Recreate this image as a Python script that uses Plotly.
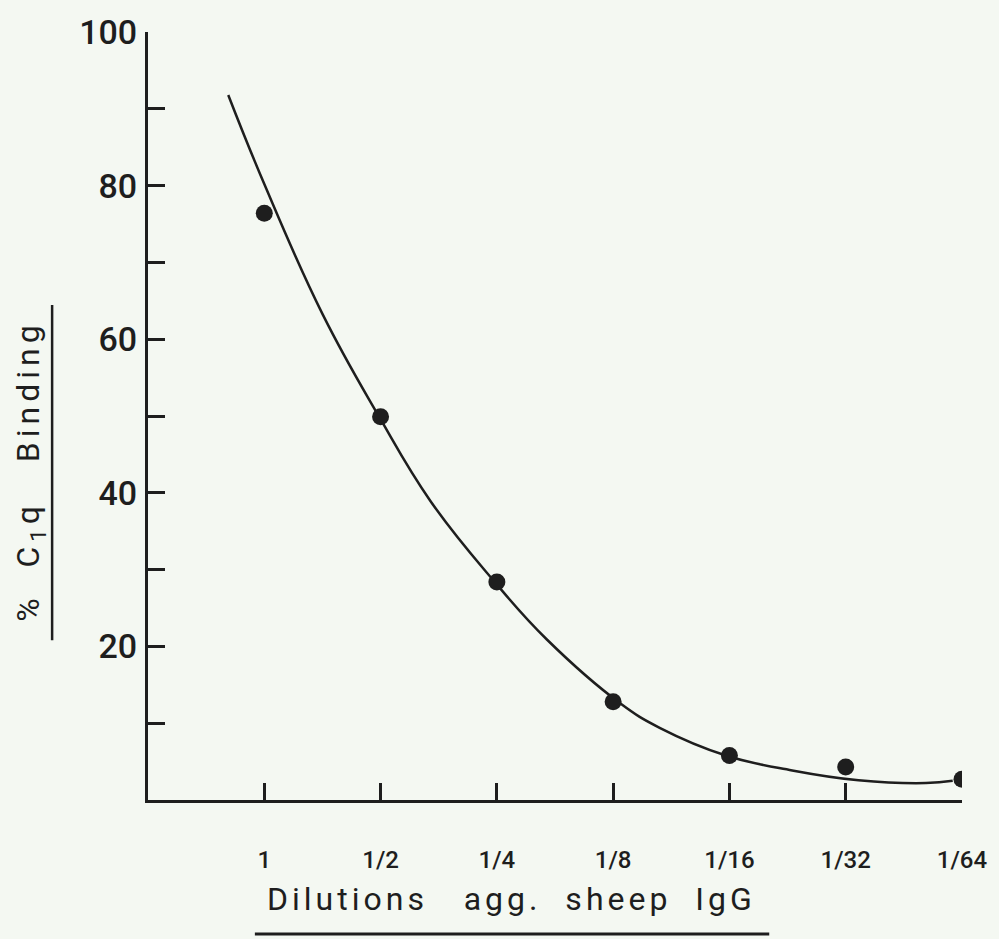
import plotly.graph_objects as go

# Dilution series (plotted at equal spacing, index 0..6)
dilution_labels = ["1", "1/2", "1/4", "1/8", "1/16", "1/32", "1/64"]
dilution_index = [0, 1, 2, 3, 4, 5, 6]
binding_pct = [76.4, 49.9, 28.4, 12.8, 5.8, 4.3, 2.7]

# Hand-drawn fitted curve, read point by point
curve_x = [-0.31, 0.0, 0.50, 0.98, 1.43, 1.97, 2.43, 3.06, 3.40, 3.97, 4.54, 5.11, 5.69, 5.92]
curve_y = [91.8, 80.2, 63.3, 50.1, 38.9, 28.6, 20.9, 12.6, 9.4, 5.8, 3.85, 2.57, 2.2, 2.5]

y_tick_vals = [10, 20, 30, 40, 50, 60, 70, 80, 90, 100]
y_tick_text = ["", "20", "", "40", "", "60", "", "80", "", "100"]

W, H = 999, 939
ML, MR, MT, MB = 148, 36, 21, 139
PW, PH = W - ML - MR, H - MT - MB
INK = "#1e1e1e"
PAPER = "#f4f8f2"
FONT = "Roboto"


def px_x(x):
    return (x - ML) / PW


def px_y(y):
    return (H - MB - y) / PH


fig = go.Figure()
fig.add_trace(go.Scatter(
    x=curve_x, y=curve_y, mode="lines",
    line=dict(color=INK, width=2.5, shape="spline", smoothing=1.2),
    hoverinfo="skip", showlegend=False,
))
fig.add_trace(go.Scatter(
    x=dilution_index, y=binding_pct, mode="markers",
    marker=dict(color=INK, size=17, line=dict(width=0)),
    showlegend=False,
))

fig.update_layout(
    width=W, height=H,
    margin=dict(l=ML, r=MR, t=MT, b=MB, pad=0),
    paper_bgcolor=PAPER, plot_bgcolor=PAPER,
    font=dict(family=FONT, color=INK),
    showlegend=False,
)
fig.update_xaxes(
    range=[-1, 6], showgrid=False, zeroline=False,
    showline=True, linecolor=INK, linewidth=3,
    tickmode="array", tickvals=dilution_index, ticktext=dilution_labels,
    ticks="inside", ticklen=17, tickwidth=3, tickcolor=INK,
    tickfont=dict(size=24, family=FONT, color=INK, weight=500),
    ticklabelstandoff=36,
)
fig.update_yaxes(
    range=[0, 100], showgrid=False, zeroline=False,
    showline=True, linecolor=INK, linewidth=3,
    tickmode="array", tickvals=y_tick_vals, ticktext=y_tick_text,
    ticks="inside", ticklen=17, tickwidth=3, tickcolor=INK,
    tickfont=dict(size=34, family=FONT, color=INK, weight=500),
    ticklabelstandoff=1,
)

# Axis titles (letter-spaced) with underlines
fig.add_annotation(
    text='<span style="letter-spacing:5px">%  C<sub>1</sub>q   Binding</span>',
    xref="paper", yref="paper",
    x=px_x(30), y=px_y(466), textangle=-90, showarrow=False,
    xanchor="center", yanchor="middle",
    font=dict(size=32, family=FONT, color=INK),
)
fig.add_shape(type="line", xref="paper", yref="paper",
              x0=px_x(52), x1=px_x(52), y0=px_y(298), y1=px_y(638),
              line=dict(color=INK, width=2.5))
fig.add_annotation(
    text='<span style="letter-spacing:4px">Dilutions   agg.  sheep  IgG</span>',
    xref="paper", yref="paper",
    x=px_x(512), y=px_y(900), showarrow=False,
    xanchor="center", yanchor="middle",
    font=dict(size=32, family=FONT, color=INK),
)
fig.add_shape(type="line", xref="paper", yref="paper",
              x0=px_x(255), x1=px_x(770), y0=px_y(936), y1=px_y(936),
              line=dict(color=INK, width=3))

fig.write_html("out.html")
